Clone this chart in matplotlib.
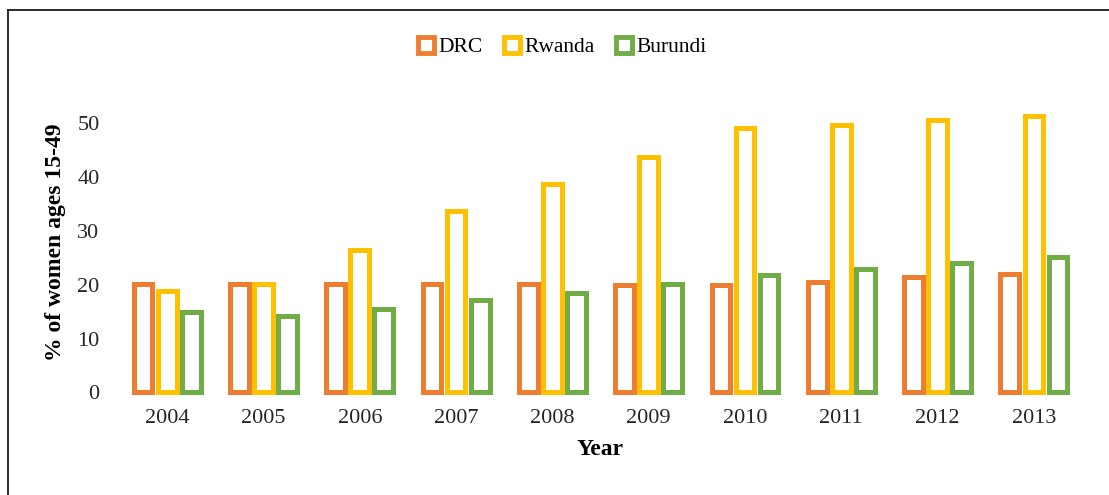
import matplotlib
matplotlib.use("Agg")
import matplotlib.pyplot as plt
import numpy as np
from matplotlib.patches import Patch
from matplotlib.lines import Line2D

years = [2004, 2005, 2006, 2007, 2008, 2009, 2010, 2011, 2012, 2013]
drc = [20.1, 20.1, 20.1, 20.1, 20.1, 20.0, 19.9, 20.6, 21.5, 22.1]
rwanda = [18.8, 20.1, 26.4, 33.8, 38.7, 43.8, 49.1, 49.8, 50.6, 51.4]
burundi = [15.0, 14.3, 15.6, 17.1, 18.5, 20.1, 21.8, 23.0, 24.0, 25.2]

series = [("DRC", drc, "#ED7D31"),
          ("Rwanda", rwanda, "#FFC000"),
          ("Burundi", burundi, "#70AD47")]

plt.rcParams['font.family'] = ['Liberation Serif', 'DejaVu Serif']

fig = plt.figure(figsize=(11.09, 4.95), dpi=100)
ax = fig.add_axes([0.1073, 0.2071, 0.8684, 0.6087])

x = np.arange(len(years))
offsets = [-0.25, 0, 0.25]
for (name, vals, col), off in zip(series, offsets):
    ax.bar(x + off, vals, width=0.195, facecolor="white", edgecolor=col,
           linewidth=3.6, joinstyle="miter", clip_on=False, label=name)

ax.set_xlim(-0.5, len(years) - 0.5)
ax.set_ylim(0, 56)
ax.set_yticks([0, 10, 20, 30, 40, 50])
ax.set_xticks(x)
ax.set_xticklabels([str(y) for y in years])
ax.tick_params(axis="both", length=0, labelsize=16, colors="#262626")
ax.tick_params(axis="y", pad=14)
ax.tick_params(axis="x", pad=12)
for s in ax.spines.values():
    s.set_visible(False)

ax.set_ylabel("% of women ages 15-49", fontsize=17, fontweight="bold", labelpad=8)
ax.set_xlabel("Year", fontsize=17, fontweight="bold", labelpad=8)

handles = [Patch(facecolor="white", edgecolor=c, linewidth=3.5, label=n)
           for n, _, c in series]
fig.legend(handles=handles, loc="center", bbox_to_anchor=(0.507, 0.905),
           ncol=3, frameon=False, fontsize=15.5, handlelength=0.75,
           handleheight=0.75, handletextpad=0.2, columnspacing=1.0)

# outer chart border
fig.add_artist(Line2D([8 / 1109, 8 / 1109], [0, 1 - 10 / 495],
                      transform=fig.transFigure, color="#1a1a1a", lw=1.3))
fig.add_artist(Line2D([8 / 1109, 1], [1 - 10 / 495, 1 - 10 / 495],
                      transform=fig.transFigure, color="#1a1a1a", lw=1.3))

fig.savefig("out.png", dpi=100)
